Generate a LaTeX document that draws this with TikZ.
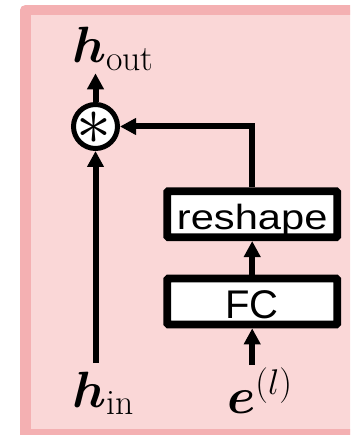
\RequirePackage{fix-cm}
\documentclass[tikz,border=0pt]{standalone}
\usepackage{bm}
\usepackage{fontspec}
\newfontfamily\sansfam{Liberation Sans}
\usetikzlibrary{arrows.meta}
\definecolor{pinkfill}{RGB}{250,215,215}
\definecolor{pinkborder}{RGB}{244,176,178}
\begin{document}
\begin{tikzpicture}[x=1pt,y=-1pt,
  conn/.style={line width=6pt, line join=miter, -{Triangle[length=16pt,width=16pt]}},
  boxnode/.style={draw, line width=7.7pt, fill=white, minimum width=170pt, minimum height=46pt, inner sep=0pt, rounded corners=1pt, text depth=0pt},
  lbl/.style={inner sep=0pt, anchor=base west, font=\fontsize{51}{60}\selectfont}]
\useasboundingbox (0,0) rectangle (350,435);
\begin{scope}
\clip (0,0) rectangle (350,435);
\fill[pinkfill] (25.3,10.2) rectangle (360,440);
\draw[line width=10.5pt, pinkborder, line join=round] (360,10.2) -- (25.3,10.2) -- (25.3,434.7) -- (360,434.7);
\end{scope}
\node[circle, draw, line width=5pt, fill=white, minimum size=44pt, inner sep=0pt] (circ) at (95.5,126.5) {};
\node[inner sep=0pt, font=\fontsize{70}{80}\selectfont] (star) at (93.5,128.5) {$\ast$};
\node[boxnode, font=\sansfam\fontsize{35}{42}\selectfont, text height=30.2pt] (reshape) at (252.2,214.2) {\scalebox{1.19}[1]{reshape}};
\node[boxnode, font=\sansfam\fontsize{40}{48}\selectfont, text height=33pt] (fc) at (252.2,301.5) {FC};
\coordinate (outtip) at (95.5,73.3);
\coordinate (instart) at (95.5,363);
\coordinate (estart) at (252.2,365);
\node[lbl] (hout) at (72,63) {$\bm{h}_{\mathrm{out}}$};
\node[lbl] (hin) at (72,407) {$\bm{h}_{\mathrm{in}}$};
\node[lbl] (el) at (227,413) {$\bm{e}^{(l)}$};
\draw[conn] (circ.north) -- (outtip);
\draw[conn] (instart) -- (circ.south);
\draw[conn] (reshape.north) |- (circ.east);
\draw[conn] (fc.north) -- (reshape.south);
\draw[conn] (estart) -- (fc.south);
\end{tikzpicture}
\end{document}
